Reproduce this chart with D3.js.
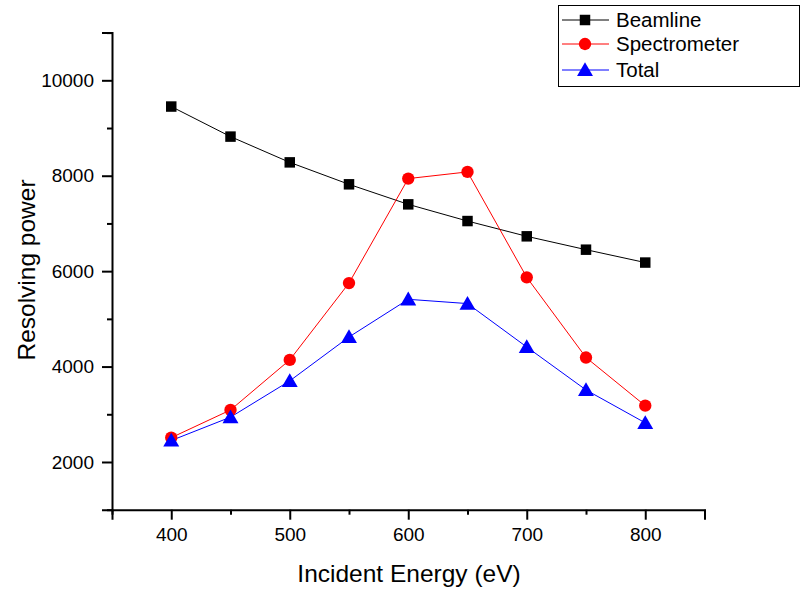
<!DOCTYPE html>
<html><head><meta charset="utf-8">
<script src="https://cdn.jsdelivr.net/npm/d3@7"></script>
<style>body{margin:0;background:#fff}svg{display:block}text{font-family:"Liberation Sans",Arial,sans-serif}</style>
</head><body>
<script>
const energies = [400,450,500,550,600,650,700,750,800];
const beamline = [9450,8820,8280,7820,7400,7050,6730,6450,6180];
const spectrometer = [2510,3090,4140,5750,7940,8080,5870,4190,3180];
const total = [2450,2940,3700,4620,5410,5320,4410,3510,2820];
const seriesNames = ["Beamline","Spectrometer","Total"];
const xMajor = [400,500,600,700,800];
const xMinor = [350,450,550,650,750,850];
const yMajor = [2000,4000,6000,8000,10000];
const yMinor = [1000,3000,5000,7000,9000,11000];

const W=800,H=590;
const svg=d3.select("body").append("svg").attr("width",W).attr("height",H);
const x=d3.scaleLinear().domain([350,850]).range([112,704.5]);
const y=d3.scaleLinear().domain([1000,11000]).range([509.7,32.6]);

// axes
const gx=svg.append("g").attr("transform",`translate(0,${y(1000)})`);
gx.call(d3.axisBottom(x).tickValues(xMajor).tickSize(10).tickPadding(8).tickFormat(d3.format("d")));
gx.append("g").call(d3.axisBottom(x).tickValues(xMinor).tickSize(5).tickFormat(""));
const gy=svg.append("g").attr("transform",`translate(${x(350)},0)`);
gy.call(d3.axisLeft(y).tickValues(yMajor).tickSize(10).tickPadding(8).tickFormat(d3.format("d")));
gy.append("g").call(d3.axisLeft(y).tickValues(yMinor).tickSize(5).tickFormat(""));
svg.selectAll(".domain").attr("stroke","#000").attr("stroke-width",2);
svg.selectAll(".tick line").attr("stroke","#000").attr("stroke-width",2);
svg.selectAll(".tick text").attr("font-size",19).attr("fill","#000").attr("font-family","Liberation Sans, Arial, sans-serif");
svg.selectAll("path.domain").filter(function(){return this.parentNode!==gx.node()&&this.parentNode!==gy.node();}).remove();

// titles
svg.append("text").attr("x",409).attr("y",582).attr("text-anchor","middle").attr("font-size",24.5).text("Incident Energy (eV)");
svg.append("text").attr("transform","translate(35,270) rotate(-90)").attr("text-anchor","middle").attr("font-size",24.5).text("Resolving power");

const colors=["#000000","#ff0000","#0000ff"];
const data=[beamline,spectrometer,total];
const symbols=[d3.symbolSquare,d3.symbolCircle,d3.symbolTriangle];
const sizes=[110,120,110];
const line=d3.line().x(d=>x(d[0])).y(d=>y(d[1]));

data.forEach((vals,i)=>{
  const pts=energies.map((e,j)=>[e,vals[j]]);
  svg.append("path").datum(pts).attr("d",line).attr("fill","none").attr("stroke",colors[i]).attr("stroke-width",1);
});
data.forEach((vals,i)=>{
  const pts=energies.map((e,j)=>[e,vals[j]]);
  svg.append("g").selectAll("path").data(pts).join("path")
    .attr("transform",d=>`translate(${x(d[0])},${y(d[1])+(i===2?1.5:0)})`)
    .attr("d",d3.symbol().type(symbols[i]).size(sizes[i])).attr("fill",colors[i]);
});

// legend
const lg=svg.append("g");
lg.append("rect").attr("x",558.5).attr("y",5.5).attr("width",241).attr("height",81).attr("fill","#fff").attr("stroke","#000").attr("stroke-width",1);
seriesNames.forEach((n,i)=>{
  const yy=[20,44,70][i];
  lg.append("line").attr("x1",562).attr("x2",609).attr("y1",yy).attr("y2",yy).attr("stroke",colors[i]).attr("stroke-width",1);
  lg.append("path").attr("transform",`translate(585,${yy+(i===2?1.5:0)})`).attr("d",d3.symbol().type(symbols[i]).size(sizes[i])).attr("fill",colors[i]);
  lg.append("text").attr("x",616).attr("y",yy).attr("dy","0.35em").attr("font-size",20.5).text(n);
});
</script>
</body></html>
